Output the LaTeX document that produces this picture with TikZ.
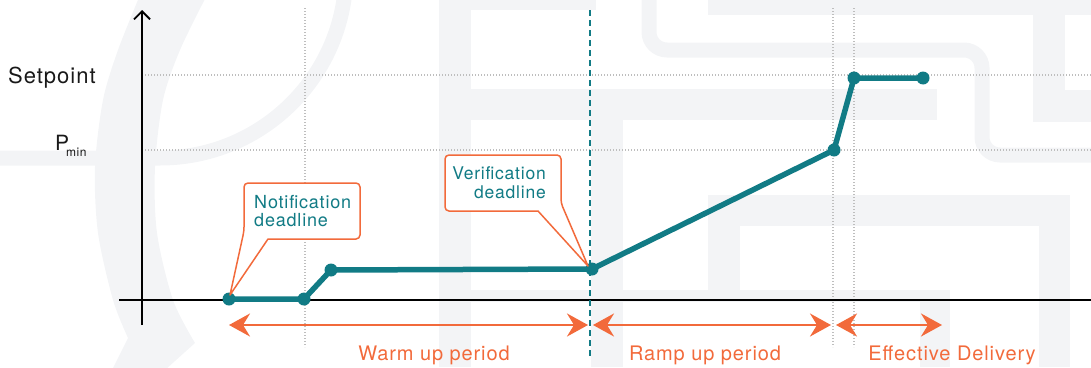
\documentclass[tikz,border=0pt]{standalone}
\usepackage{fontspec}
\setmainfont{TeX Gyre Heros}[LetterSpace=4.5]
\usetikzlibrary{arrows.meta,calc}

\definecolor{brandteal}{RGB}{17,123,133}
\definecolor{brandorange}{RGB}{242,106,59}
\definecolor{wmgrey}{RGB}{243,244,246}
\definecolor{gridgrey}{RGB}{190,190,190}

\tikzset{
  wm/.style={fill=wmgrey},
  wmline/.style={draw=wmgrey, line width=15pt},
  gridline/.style={draw=gridgrey, line width=1.1pt, dash pattern=on 1.1pt off 1.9pt},
  axisline/.style={draw=black, line width=1.8pt},
  deadline/.style={draw=brandteal, line width=1.4pt, dash pattern=on 6pt off 4pt},
  series/.style={draw=brandteal, line width=5.5pt, line join=round},
  dot/.style={circle, fill=brandteal, minimum size=13pt, inner sep=0pt},
  period/.style={draw=brandorange, line width=2.6pt,
    {Stealth[length=21pt,width=23pt,inset=7pt]}-{Stealth[length=21pt,width=23pt,inset=7pt]}},
  callout/.style={draw=brandorange, fill=white, line width=1.5pt, line join=round},
  calltext/.style={text=brandteal, inner sep=0pt},
  axislabel/.style={text=black!90, inner sep=0pt},
  periodlabel/.style={text=brandorange, inner sep=0pt, font={\fontsize{20}{24}\selectfont}},
}

\begin{document}
\begin{tikzpicture}[x=1pt,y=-1pt]
\useasboundingbox (0,0) rectangle (1091,367);

% faint logo pattern in the background
\begin{scope}
  \clip (0,0) rectangle (1091,367);
  % large bracket-shaped arc on the left
  \fill[wm] plot[smooth] coordinates {(140,-5) (118,50) (103,100) (95,167) (98,233) (113,300) (128,338)}
    -- (112,370) -- (165,370)
    -- plot[smooth] coordinates {(195,343) (173,300) (157,233) (155,167) (163,100) (180,50) (207,-5)}
    -- cycle;
  % bar and curve rising to the top
  \draw[wmline] (-5,158) -- (160,158) arc[start angle=90, end angle=0, radius=186];
  % block letters
  \fill[wm] (439,0) rectangle (471,367);
  \fill[wm] (439,0) rectangle (596,10);
  \fill[wm] (439,89) rectangle (937,120);
  \fill[wm] (591,120) rectangle (623,367);
  \fill[wm] (439,290) rectangle (950,302);
  \fill[wm] (708,195) rectangle (1070,226);
  \fill[wm] (708,195) rectangle (740,290);
  \fill[wm] (1039,195) rectangle (1070,367);
  \fill[wm] (920,290) rectangle (950,367);
  \fill[wm] (708,0) rectangle (1091,15);
  \fill[wm] (1033,0) rectangle (1065,122);
  \fill[wm] (1033,90) rectangle (1091,122);
  % rounded pipe
  \draw[wmline, rounded corners=18pt] (649,-10) -- (649,50) -- (982,50) -- (982,155) -- (1100,155);
\end{scope}

% dotted reference lines
\draw[gridline] (145,75) -- (1091,75);
\draw[gridline] (145,150) -- (1091,150);
\draw[gridline] (305,8) -- (305,347);
\draw[gridline] (833,8) -- (833,347);
\draw[gridline] (854,8) -- (854,347);

% axes
\coordinate (yfoot) at (142,325);
\coordinate (ytop) at (142,10);
\coordinate (xleft) at (119,300);
\coordinate (xright) at (1091,300);
\draw[axisline, -{Straight Barb[length=8pt,width=16pt]}] (yfoot) -- (ytop);
\draw[axisline] (xleft) -- (xright);

% verification deadline marker
\coordinate (vtop) at (590,10);
\coordinate (vbot) at (590,357);
\draw[deadline] (vtop) -- (vbot);

% axis labels
\node[axislabel, anchor=base west, font={\fontsize{22}{26}\selectfont}] (setpoint) at (8,83) {Setpoint};
\node[axislabel, anchor=base west, font={\fontsize{21}{25}\selectfont}] (pmin) at (55,150)
  {P\kern-3pt\raisebox{-6.5pt}{\fontsize{12}{14}\selectfont min}};

% period arrows
\coordinate (w0) at (229,325);
\coordinate (w1) at (588,325);
\coordinate (r0) at (593,325);
\coordinate (r1) at (831,325);
\coordinate (e0) at (836,325);
\coordinate (e1) at (942,325);
\draw[period] (w0) -- (w1);
\draw[period] (r0) -- (r1);
\draw[period] (e0) -- (e1);
\node[periodlabel, anchor=base] (warm) at (434,360) {Warm up period};
\node[periodlabel, anchor=base] (ramp) at (705,360) {Ramp up period};
\node[periodlabel, anchor=base] (deliv) at (952,360) {Effective Delivery};

% power curve
\node[dot] (p1) at (229,299) {};
\node[dot] (p2) at (304,299) {};
\node[dot] (p3) at (331,270) {};
\node[dot] (p4) at (592,269) {};
\node[dot] (p5) at (834,150) {};
\node[dot] (p6) at (854,78) {};
\node[dot] (p7) at (923,78) {};
\draw[series] (p1.center) -- (p2.center) -- (p3.center) -- (p4.center) -- (p5.center) -- (p6.center) -- (p7.center);

% callouts
\coordinate (ntip) at ($(p1)+(1,-4)$);
\draw[callout] (ntip) -- (268,239) [rounded corners=4pt] -- (360,239) -- (360,183) -- (244,183) -- (244,231) [sharp corners] -- cycle;
\node[calltext, anchor=north west, align=left, font={\fontsize{18}{18}\selectfont}] (notif) at (254,195) {Notification\\deadline};

\coordinate (vtip) at ($(p4)+(-4,-3)$);
\draw[callout] (vtip) -- (538,211) [rounded corners=4pt] -- (445,211) -- (445,155) -- (561,155) -- (561,203) [sharp corners] -- cycle;
\node[calltext, anchor=north east, align=right, font={\fontsize{17.5}{19}\selectfont}] (verif) at (546,166) {Verification\\deadline};
\end{tikzpicture}
\end{document}
